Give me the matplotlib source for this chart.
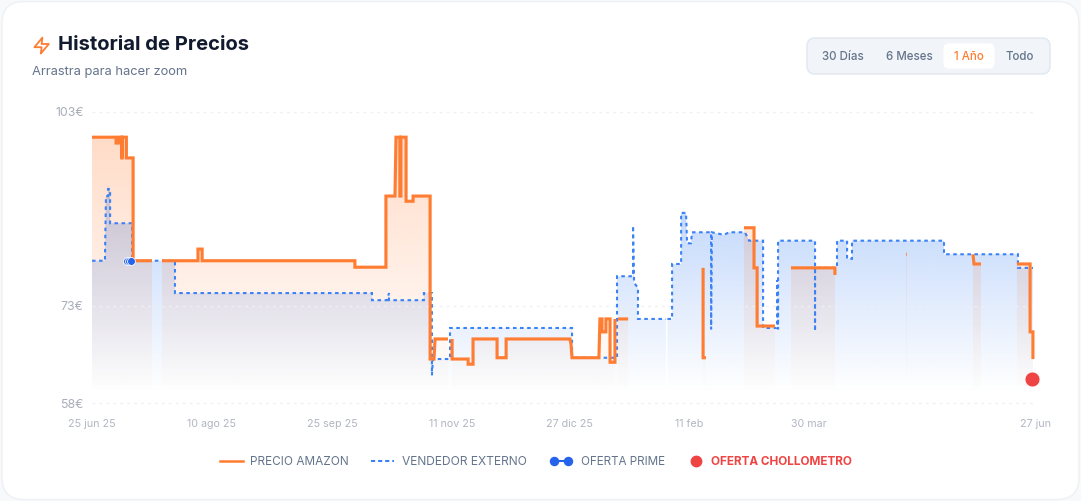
import numpy as np
import matplotlib
matplotlib.use("Agg")
import matplotlib.pyplot as plt
from matplotlib.path import Path
from matplotlib.patches import FancyBboxPatch, Polygon
from matplotlib.colors import to_rgb

plt.rcParams['font.family'] = ['Inter', 'DejaVu Sans']

nan = float('nan')
# days since 25 jun 25, price in euros
amazon_days = [0, 9.3, 9.3, 10.4, 10.4, 11.5, 11.5, 11.7, 11.7, 13.3, 13.3, 15.9, 15.9, 23.2, nan,
               27.1, 41, 41, 42.6, 42.6, 101.7, 101.7, 113.7, 113.7, 117.2, 117.6, 119.1, 119.1, 119.5, 119.5,
               121.5, 121.5, 124.2, 124.2, 130.8, 130.8, 132.3, 132.7, 137.7, nan,
               139.3, 139.3, 145.5, 145.5, 147.4, 147.4, 156.7, 156.7, 160.2, 160.2, 184.9, 185.3, 185.7, 185.7,
               196.1, 196.5, 197.3, 197.3, 198.8, 198.8, 200.4, 200.4, 202.3, 202.3, nan,
               203.5, 207.4, nan,
               236.4, 236.4, 237.5, nan,
               252.2, 256.1, 256.1, 257.3, 257.3, 264.2, nan,
               270.4, 287.4, 287.4, nan,
               314.9, 315.2, nan,
               340.8, 341.2, 343.9, nan,
               357.8, 362.9, 362.9, 364, 364]
amazon_prices = [99.1, 99.1, 98.2, 98.2, 99.1, 99.1, 95.9, 95.9, 99.1, 99.1, 95.9, 95.9, 80, 80, nan,
                 80, 80, 81.8, 81.8, 80, 80, 79, 79, 90, 90, 99.1, 99.1, 90, 90, 99.1,
                 99.1, 89.2, 89.2, 90, 90, 64.8, 64.8, 67.9, 67.9, nan,
                 67.9, 64.8, 64.8, 64, 64, 67.9, 67.9, 65, 65, 67.9, 67.9, 67.1, 65, 65,
                 65, 71, 71, 69, 69, 71, 71, 64.3, 64.3, 71, nan,
                 71, 71, nan,
                 78.9, 65, 65, nan,
                 85.1, 85.1, 78.9, 78.9, 69.9, 69.9, nan,
                 78.9, 78.9, 77.8, nan,
                 81, 81, nan,
                 81, 79.5, 79.5, nan,
                 79.5, 79.5, 69, 69, 64.8]

seller_days = [0, 5, 5.4, 6.2, 6.2, 7, 7, 15.5, 15.5, 32.1, 32.1, 108.3, 108.3, 114.1, 114.9, 114.9, 128.4, 128.4,
               131.5, 131.5, 131.9, 138.5, 138.5, 185.7, 185.7, 198.8, 203.1, 203.1, 209.3, 209.3, 209.7, 211.2, 211.2,
               222, nan,
               222.6, 224.4, 224.4, 227.9, 227.9, 229.8, 230.2, 231.7, 232.1, 239.5, 239.5, 239.8, 244.5, 246.4, 252.6,
               254.2, 259.6, 259.6, 265, 265, 265.4, 265.4, 279.7, 279.7, 279.7, 287.4, 288.2, 288.2, 292.1, 292.1,
               294, 294, 329.6, 329.6, 358.2, 358.2, 364]
seller_prices = [80, 80, 90, 90, 91.1, 91.1, 85.8, 85.8, 80, 80, 75, 75, 73.9, 73.9, 75, 73.9, 73.9, 75,
                 75, 62.3, 64.8, 64.8, 69.6, 69.6, 65, 65, 65, 77.6, 77.6, 85.4, 76.6, 75.8, 71,
                 71, nan,
                 71, 71, 79.5, 79.5, 87.4, 87.4, 82.7, 82.7, 84.4, 84.4, 69.4, 84.4, 84, 84.4, 84.4,
                 83.1, 83.1, 69.6, 69.6, 77, 69.4, 83.1, 83.1, 69.1, 78.9, 78.9, 78.9, 83.1, 83.1, 80.3,
                 80.3, 83.1, 83.1, 81, 81, 78.9, 78.9]

prime_days = [13.6, 14.3, 15.1]
prime_prices = [80, 80, 80]
deal_days = [363.6]
deal_prices = [61.7]

y_ticks = [103, 73, 58]
y_labels = ['103€', '73€', '58€']
x_ticks = [0, 46.4, 92.8, 139.2, 184.8, 231.2, 277.2, 365]
x_labels = ['25 jun 25', '10 ago 25', '25 sep 25', '11 nov 25', '27 dic 25', '11 feb', '30 mar', '27 jun']
ranges = ['30 Días', '6 Meses', '1 Año', 'Todo']
legend_labels = ['PRECIO AMAZON', 'VENDEDOR EXTERNO', 'OFERTA PRIME', 'OFERTA CHOLLOMETRO']

ORANGE = '#ff7d32'
BLUE = '#3b82f6'
W, H = 1081, 501
fig = plt.figure(figsize=(W / 100, H / 100), dpi=100, facecolor='#f8f9fb')

# page furniture, in pixel coordinates
ui = fig.add_axes([0, 0, 1, 1], zorder=0)
ui.set_xlim(0, W)
ui.set_ylim(H, 0)
ui.axis('off')
ui.add_patch(FancyBboxPatch((2 + 22, 1.5 + 22), W - 4 - 44, H - 3 - 44, boxstyle='round,pad=22,rounding_size=22',
                            fc='white', ec='#eef0f3', lw=1))
ui.add_patch(Polygon([(42.4, 37.6), (34.4, 47.2), (41.6, 47.2), (40.8, 53.6), (48.8, 44), (41.6, 44)],
                     closed=True, fc='none', ec=ORANGE, lw=1.3, joinstyle='round'))
ui.text(58, 45, 'Historial de Precios', fontsize=14.55, fontweight='bold', color='#111a2e', va='center', ha='left')
ui.text(32, 72.2, 'Arrastra para hacer zoom', fontsize=9.3, color='#64748b', va='center', ha='left')

ui.add_patch(FancyBboxPatch((815, 46), 227, 20, boxstyle='round,pad=8,rounding_size=8',
                            fc='#f1f4f9', ec='#e2e8f0', lw=1))
ui.add_patch(FancyBboxPatch((949, 49), 40, 14, boxstyle='round,pad=6,rounding_size=6',
                            fc='white', ec='#f4f5f8', lw=0.6))
for label, cx, col in zip(ranges, [843, 909, 969, 1020], ['#64748b', '#64748b', ORANGE, '#64748b']):
    ui.text(cx, 56.8, label, fontsize=8.3, fontweight='medium', color=col, ha='center', va='center')

# legend
ly = 461
tly = 461.8
ui.plot([220, 243], [ly, ly], color=ORANGE, lw=1.8)
ui.text(250, tly, legend_labels[0], fontsize=8.5, color='#64748b', va='center')
ui.plot([371, 394], [ly, ly], color=BLUE, lw=1.5, dashes=(2.0, 1.4))
ui.text(402, tly, legend_labels[1], fontsize=8.65, color='#64748b', va='center')
ui.plot([554, 568], [ly, ly], color='#2563eb', lw=1.5, marker='o', ms=5.8)
ui.text(581, tly, legend_labels[2], fontsize=8.4, color='#64748b', va='center')
ui.plot([696], [ly], color='#ef4444', marker='o', ms=7.5)
ui.text(711, tly, legend_labels[3], fontsize=8.45, fontweight='bold', color='#ef4444', va='center')

# chart
ax = fig.add_axes([92 / W, (H - 403) / H, 948 / W, 291 / H], zorder=1)
ax.patch.set_alpha(0)
for s in ax.spines.values():
    s.set_visible(False)
XMAX = 948 / 2.585
BASE = 59.6


def segments(xs, ys):
    out, cx, cy = [], [], []
    for x, y in zip(xs, ys):
        if np.isnan(x):
            if cx:
                out.append((cx, cy))
            cx, cy = [], []
        else:
            cx.append(x)
            cy.append(y)
    if cx:
        out.append((cx, cy))
    return out


def gradient_fill(xs, ys, color, ref_price, ref_alpha):
    polys = []
    for cx, cy in segments(xs, ys):
        pts = list(zip(cx, cy)) + [(cx[-1], BASE), (cx[0], BASE), (cx[0], cy[0])]
        polys.append(Path(pts, closed=True))
    path = Path.make_compound_path(*polys)
    prices = np.linspace(103, BASE, 300)
    alpha = np.clip((prices - BASE) / (ref_price - BASE), 0, None) * ref_alpha
    img = np.zeros((300, 2, 4))
    img[..., :3] = to_rgb(color)
    img[..., 3] = alpha[:, None]
    im = ax.imshow(img, extent=(0, XMAX, BASE, 103), aspect='auto', interpolation='bilinear', zorder=2)
    im.set_clip_path(path, transform=ax.transData)


gradient_fill(seller_days, seller_prices, BLUE, 87.4, 0.30)
gradient_fill(amazon_days, amazon_prices, ORANGE, 99.1, 0.27)

for v in y_ticks:
    ax.plot([0, XMAX - 2], [v, v], color='#eef0f4', lw=1, dashes=(2, 3), zorder=3, clip_on=False)

ax.plot(seller_days, seller_prices, color=BLUE, lw=1.5, dashes=(1.7, 1.7), zorder=4,
        dash_joinstyle='miter', dash_capstyle='butt')
ax.plot(amazon_days, amazon_prices, color=ORANGE, lw=2.25, zorder=5, solid_joinstyle='miter', solid_capstyle='butt')
ax.scatter(prime_days, prime_prices, s=32, color='#2563eb', edgecolor='white', linewidth=0.6, zorder=6)
ax.scatter(deal_days, deal_prices, s=115, color='#ef4444', edgecolor='white', linewidth=0.5, zorder=7)

ax.set_xlim(0, XMAX)
ax.set_ylim(58, 103)
ax.set_xticks(x_ticks, x_labels, fontsize=7.7, color='#b1b6c2')
ax.set_yticks(y_ticks, y_labels, fontsize=8.9, color='#a8aeba')
ax.tick_params(axis='both', length=0)
ax.tick_params(axis='x', pad=11.5)
ax.tick_params(axis='y', pad=6)

fig.savefig('out.png', dpi=100, facecolor=fig.get_facecolor())
